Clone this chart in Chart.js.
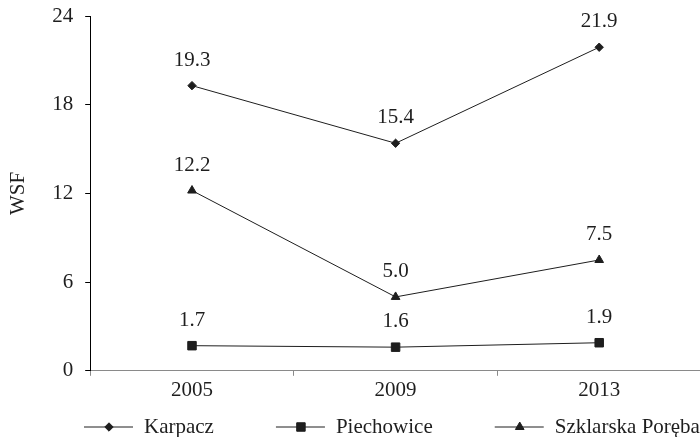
<!DOCTYPE html>
<html lang="pl">
<head>
  <meta charset="UTF-8" />
  <title>WSF</title>
  <script src="https://cdn.jsdelivr.net/npm/chart.js"></script>
  <style>
    body {
      margin: 0;
      padding: 0;
      background-color: #ffffff;
      overflow: hidden;
    }
    .wrap {
      width: 708px;
      height: 437px;
    }
  </style>
</head>
<body>
  <div class="wrap">
    <canvas id="wsfChart"></canvas>
  </div>

  <script>
    const lata = ['2005', '2009', '2013'];
    const karpacz = [19.3, 15.4, 21.9];
    const piechowice = [1.7, 1.6, 1.9];
    const szklarska = [12.2, 5.0, 7.5];
    const yTicks = [0, 6, 12, 18, 24];

    const FONT = '"Liberation Serif", "Times New Roman", serif';
    const INK = '#1e1e1e';

    // etykiety wartości nad punktami
    const wartosciPlugin = {
      id: 'wartosci',
      afterDatasetsDraw(chart) {
        const ctx = chart.ctx;
        ctx.save();
        ctx.font = '21px ' + FONT;
        ctx.fillStyle = INK;
        ctx.textAlign = 'center';
        ctx.textBaseline = 'alphabetic';
        chart.data.datasets.forEach((ds, i) => {
          chart.getDatasetMeta(i).data.forEach((pt, j) => {
            ctx.fillText(ds.data[j].toFixed(1), pt.x, pt.y - 20);
          });
        });
        ctx.restore();
      }
    };

    // legenda: linia - znacznik - linia, potem nazwa
    const legendaPlugin = {
      id: 'legenda',
      afterDraw(chart) {
        const ctx = chart.ctx;
        const y = chart.height - 10;
        let x = 84;
        ctx.save();
        ctx.font = '21px ' + FONT;
        ctx.textBaseline = 'middle';
        chart.data.datasets.forEach(ds => {
          ctx.strokeStyle = ds.borderColor;
          ctx.fillStyle = ds.pointBackgroundColor;
          ctx.lineWidth = 1;
          ctx.beginPath();
          ctx.moveTo(x, y);
          ctx.lineTo(x + 49, y);
          ctx.stroke();
          Chart.helpers.drawPoint(ctx, {
            pointStyle: ds.pointStyle,
            radius: ds.pointRadius,
            rotation: 0,
            borderWidth: 1
          }, x + 25, y);
          ctx.fillStyle = INK;
          ctx.fillText(ds.label, x + 60, y);
          x += 60 + ctx.measureText(ds.label).width + 62;
        });
        ctx.restore();
      }
    };

    const seria = (label, data, style, r) => ({
      label: label,
      data: data,
      borderColor: INK,
      borderWidth: 1,
      pointStyle: style,
      pointRadius: r,
      pointBackgroundColor: INK,
      pointBorderColor: INK,
      pointBorderWidth: 1,
      tension: 0
    });

    const ctx = document.getElementById('wsfChart').getContext('2d');
    new Chart(ctx, {
      type: 'line',
      data: {
        labels: lata,
        datasets: [
          seria('Karpacz', karpacz, 'rectRot', 4.2),
          seria('Piechowice', piechowice, 'rect', 6),
          seria('Szklarska Poręba', szklarska, 'triangle', 5)
        ]
      },
      options: {
        responsive: true,
        maintainAspectRatio: false,
        animation: false,
        layout: {
          padding: { top: 0, bottom: 32, left: 0, right: 0 }
        },
        plugins: {
          legend: { display: false },
          tooltip: { enabled: false }
        },
        scales: {
          x: {
            offset: true,
            grid: {
              offset: true,
              drawOnChartArea: false,
              drawTicks: true,
              tickLength: 5,
              color: '#8a8a8a'
            },
            border: { display: true, color: '#8a8a8a', width: 1 },
            ticks: {
              color: INK,
              padding: 2,
              font: { family: FONT, size: 21 }
            }
          },
          y: {
            min: 0,
            max: 24,
            afterBuildTicks: axis => {
              axis.ticks = yTicks.map(v => ({ value: v }));
            },
            grid: {
              drawOnChartArea: false,
              drawTicks: true,
              tickLength: 5,
              color: '#000'
            },
            border: { display: true, color: '#000', width: 1 },
            ticks: {
              color: INK,
              padding: 12,
              font: { family: FONT, size: 21, lineHeight: 0.4 }
            },
            title: {
              display: true,
              text: 'WSF',
              color: INK,
              padding: { top: 6, bottom: 9 },
              font: { family: FONT, size: 21 }
            }
          }
        }
      },
      plugins: [wartosciPlugin, legendaPlugin]
    });
  </script>
</body>
</html>
